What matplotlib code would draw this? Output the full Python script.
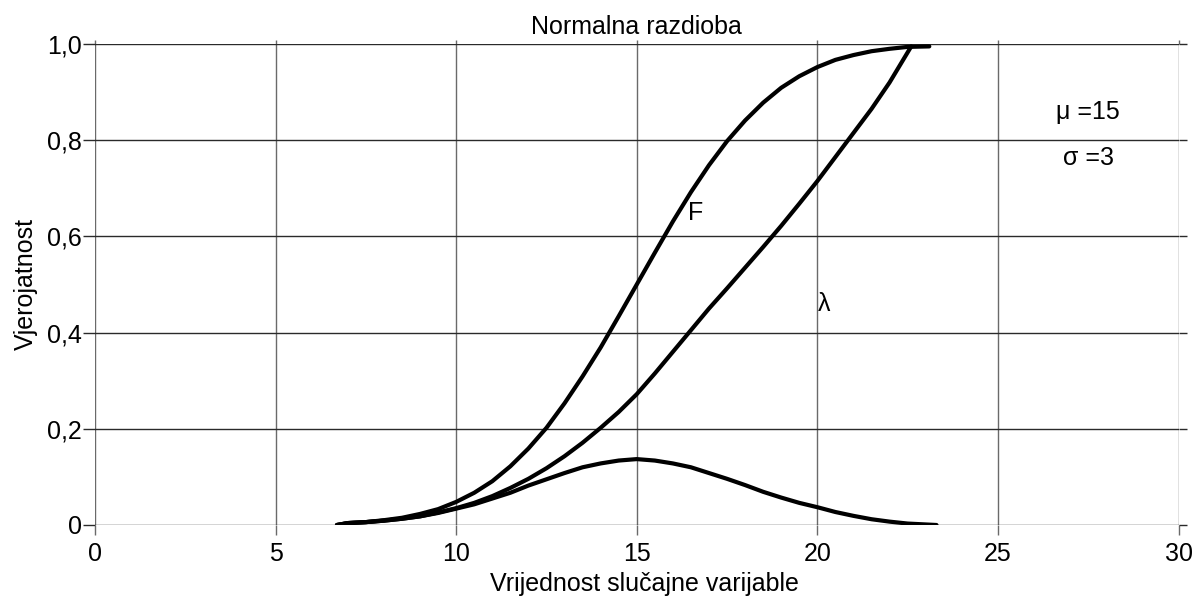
import numpy as np
import matplotlib
matplotlib.use('Agg')
import matplotlib.pyplot as plt

plt.rcParams['font.family'] = ['Liberation Sans', 'DejaVu Sans']

# F - distribution function
x_F = [6.7, 7.0, 7.5, 8.0, 8.5, 9.0, 9.5, 10.0, 10.5, 11.0, 11.5, 12.0, 12.5, 13.0,
       13.5, 14.0, 14.5, 15.0, 15.5, 16.0, 16.5, 17.0, 17.5, 18.0, 18.5, 19.0,
       19.5, 20.0, 20.5, 21.0, 21.5, 22.0, 22.5, 23.1]
y_F = [0.0, 0.004, 0.006, 0.010, 0.015, 0.023, 0.033, 0.048, 0.067, 0.091, 0.122,
       0.159, 0.202, 0.253, 0.309, 0.369, 0.434, 0.500, 0.566, 0.631, 0.692, 0.748,
       0.798, 0.841, 0.878, 0.909, 0.933, 0.952, 0.967, 0.977, 0.985, 0.990, 0.994,
       0.995]

# lambda - failure rate
x_lam = [6.7, 7.0, 7.5, 8.0, 8.5, 9.0, 9.5, 10.0, 10.5, 11.0, 11.5, 12.0, 12.5, 13.0,
         13.5, 14.0, 14.5, 15.0, 15.5, 16.0, 16.5, 17.0, 17.5, 18.0, 18.5, 19.0,
         19.5, 20.0, 20.5, 21.0, 21.5, 22.0, 22.6]
y_lam = [0.0, 0.004, 0.006, 0.009, 0.013, 0.018, 0.026, 0.035, 0.046, 0.060, 0.077,
         0.096, 0.118, 0.143, 0.171, 0.202, 0.235, 0.272, 0.315, 0.360, 0.405, 0.450,
         0.492, 0.535, 0.578, 0.622, 0.668, 0.715, 0.765, 0.815, 0.865, 0.920, 0.995]

# f - density
x_f = [6.7, 7.0, 7.5, 8.0, 8.5, 9.0, 9.5, 10.0, 10.5, 11.0, 11.5, 12.0, 12.5, 13.0,
       13.5, 14.0, 14.5, 15.0, 15.5, 16.0, 16.5, 17.0, 17.5, 18.0, 18.5, 19.0,
       19.5, 20.0, 20.5, 21.0, 21.5, 22.0, 22.5, 23.3]
y_f = [0.0, 0.004, 0.006, 0.009, 0.013, 0.018, 0.025, 0.034, 0.043, 0.055, 0.067,
       0.082, 0.095, 0.108, 0.120, 0.128, 0.134, 0.137, 0.134, 0.128, 0.120, 0.108,
       0.096, 0.083, 0.069, 0.057, 0.046, 0.037, 0.027, 0.019, 0.012, 0.007, 0.003,
       0.0]

xticks = [0, 5, 10, 15, 20, 25, 30]
yticks = [0, 0.2, 0.4, 0.6, 0.8, 1.0]
ylabels = ['0', '0,2', '0,4', '0,6', '0,8', '1,0']

fs = 18

fig = plt.figure(figsize=(12.01, 5.96), dpi=100)
ax = fig.add_axes([95/1201, 71/596, (1178.5-95)/1201, 481/596])

for xs, ys in [(x_F, y_F), (x_lam, y_lam), (x_f, y_f)]:
    ax.plot(xs, ys, color='black', lw=3.0, solid_capstyle='round',
            solid_joinstyle='round', zorder=3)

ax.set_xlim(0, 30)
ax.set_ylim(0, 1)
for s in ax.spines.values():
    s.set_visible(False)

ax.set_xticks(xticks)
ax.set_xticklabels([str(t) for t in xticks])
ax.set_yticks(yticks)
ax.set_yticklabels(ylabels)

ax.grid(axis='x', color='#6a6a6a', lw=1.0)
ax.grid(axis='y', color='#2a2a2a', lw=1.0)
ax.tick_params(axis='x', direction='out', length=7.5, width=1.0, color='#6a6a6a',
               pad=5, labelsize=fs, top=True)
ax.tick_params(axis='y', direction='out', length=8.6, width=1.0, color='#2a2a2a',
               pad=0.7, labelsize=fs, right=True)
for t in ax.xaxis.get_major_ticks():
    t.tick2line.set_markersize(3)
for t in ax.yaxis.get_major_ticks():
    t.tick2line.set_markersize(5.5)

ax.set_title('Normalna razdioba', fontsize=fs, pad=7)
ax.set_xlabel('Vrijednost slučajne varijable', fontsize=fs)
ax.xaxis.set_label_coords(0.507, -0.097)
ax.set_ylabel('Vjerojatnost', fontsize=fs, labelpad=7)

ax.text(16.63, 0.649, 'F', fontsize=fs, ha='center', va='center')
ax.text(20.2, 0.46, 'λ', fontsize=fs, ha='center', va='center')
ax.text(27.5, 0.859, 'μ =15', fontsize=fs, ha='center', va='center')
ax.text(27.5, 0.763, 'σ =3', fontsize=fs, ha='center', va='center')

fig.savefig('out.png', dpi=100)
